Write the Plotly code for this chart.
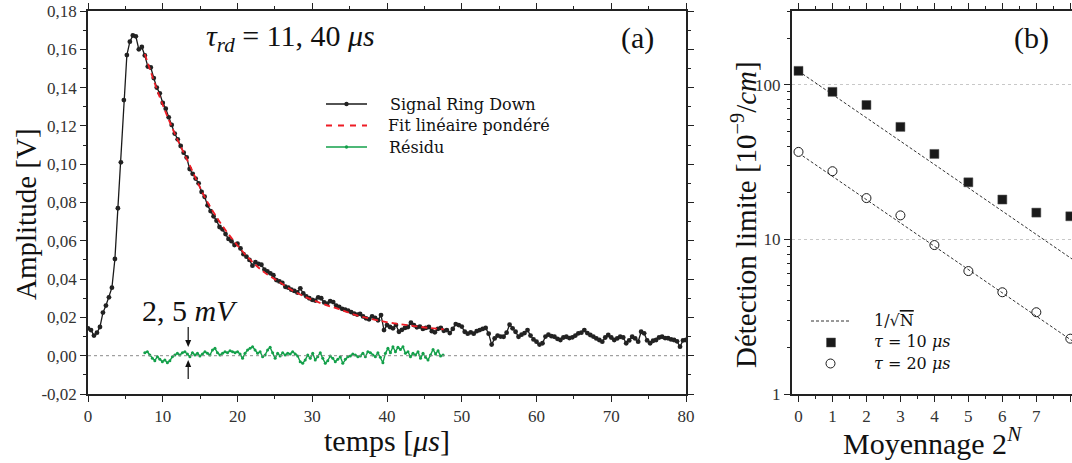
import numpy as np
import plotly.graph_objects as go

# ---------------- Panel (a) data ----------------
sig_t0, sig_dt = 0.0, 0.4
sig_v = [
    0.0143, 0.0134, 0.0105, 0.0120, 0.0150, 0.0225, 0.0262, 0.0305, 0.0355, 0.0505,
    0.0770, 0.1010, 0.1335, 0.1570, 0.1640, 0.1672, 0.1668, 0.1600, 0.1612, 0.1568,
    0.1510, 0.1505, 0.1450, 0.1400, 0.1370, 0.1320, 0.1290, 0.1245, 0.1205, 0.1160,
    0.1130, 0.1095, 0.1060, 0.1035, 0.0975, 0.0950, 0.0925, 0.0900, 0.0855, 0.0830,
    0.0785, 0.0755, 0.0728, 0.0705, 0.0672, 0.0660, 0.0635, 0.0610, 0.0598, 0.0578,
    0.0585, 0.0560, 0.0530, 0.0517, 0.0500, 0.0470, 0.0488, 0.0480, 0.0475, 0.0450,
    0.0440, 0.0430, 0.0420, 0.0395, 0.0388, 0.0380, 0.0360, 0.0355, 0.0345, 0.0338,
    0.0330, 0.0352, 0.0325, 0.0310, 0.0300, 0.0292, 0.0288, 0.0305, 0.0300, 0.0278,
    0.0272, 0.0285, 0.0280, 0.0262, 0.0255, 0.0245, 0.0240, 0.0235, 0.0228, 0.0220,
    0.0215, 0.0218, 0.0205, 0.0195, 0.0190, 0.0205, 0.0198, 0.0185, 0.0212, 0.0134,
    0.0160, 0.0150, 0.0143, 0.0160, 0.0125, 0.0135, 0.0145, 0.0150, 0.0172, 0.0160,
    0.0148, 0.0152, 0.0140, 0.0145, 0.0150, 0.0128, 0.0122, 0.0140, 0.0145, 0.0130,
    0.0134, 0.0118, 0.0140, 0.0165, 0.0160, 0.0152, 0.0125, 0.0115, 0.0122, 0.0115,
    0.0128, 0.0134, 0.0140, 0.0145, 0.0115, 0.0058, 0.0090, 0.0105, 0.0100, 0.0099,
    0.0120, 0.0162, 0.0143, 0.0125, 0.0099, 0.0110, 0.0118, 0.0134, 0.0105, 0.0085,
    0.0073, 0.0058, 0.0065, 0.0100, 0.0110, 0.0102, 0.0099, 0.0088, 0.0082, 0.0095,
    0.0099, 0.0092, 0.0096, 0.0105, 0.0117, 0.0120, 0.0134, 0.0118, 0.0108, 0.0100,
    0.0090, 0.0082, 0.0073, 0.0095, 0.0108, 0.0095, 0.0082, 0.0090, 0.0099, 0.0095,
    0.0065, 0.0080, 0.0099, 0.0090, 0.0073, 0.0125, 0.0117, 0.0080, 0.0065, 0.0078,
    0.0082, 0.0095, 0.0099, 0.0092, 0.0091, 0.0085, 0.0082, 0.0075, 0.0047, 0.0080,
    0.0082,
]
sig_t = sig_t0 + sig_dt * np.arange(len(sig_v))

fit_t = [7.6, 9.6, 11.6, 13.6, 15.6, 17.6, 19.6, 21.6, 23.6, 25.6, 27.6,
         29.6, 31.6, 33.6, 35.6, 37.6, 39.6, 41.6, 43.6, 45.6, 47.6]
fit_v = [0.1575, 0.1350, 0.1160, 0.0995, 0.0830, 0.0700, 0.0595, 0.0505, 0.0435,
         0.0385, 0.0335, 0.0298, 0.0268, 0.0243, 0.0215, 0.0195, 0.0178, 0.0165,
         0.0155, 0.0145, 0.0138]

res_start, res_end = 7.6, 47.5
res_mv = [
    1.57, 2.09, 0.35, -1.39, -2.61, -0.52, -1.91, -3.13, -2.26, -3.65,
    -2.61, -0.52, 0.35, 1.22, 0.35, 1.57, 2.09, 0.87, -0.52, 1.57,
    0.35, 1.22, -0.17, 0.87, 2.09, 1.22, 0.35, 2.96, 3.83, 1.57,
    0.35, 1.22, 2.09, 1.57, 2.61, 2.09, 1.57, 2.09, 0.87, -1.39,
    1.22, 2.96, 3.83, 4.70, 2.96, 1.22, 2.09, -0.52, 0.35, 2.96,
    4.35, 1.57, -1.39, 1.22, -0.17, 1.57, 0.35, 1.22, 0.87, 2.09,
    0.87, -0.17, -3.13, -4.00, -2.26, 0.35, -1.39, 1.22, -2.26, -0.52,
    1.57, -1.39, -4.00, -2.61, -0.17, -1.39, -3.13, -1.91, -0.52, -4.00,
    -1.91, -0.52, -0.17, 0.87, 0.35, -0.52, -0.17, 1.22, -0.52, 2.09,
    1.57, 0.35, -0.52, 1.57, -0.87, -3.65, 1.22, 3.83, 1.57, 4.70,
    2.09, 4.35, 3.30, 4.70, 1.22, 2.09, -0.52, 1.22, 0.35, 2.09,
    -1.39, 1.22, -0.87, -2.26, 0.35, 3.30, 0.87, 2.61, -0.17, 0.35,
]
res_t = np.linspace(res_start, res_end, len(res_mv))
res_v = [r / 1000.0 for r in res_mv]

a_ytickvals = [-0.02, 0.0, 0.02, 0.04, 0.06, 0.08, 0.10, 0.12, 0.14, 0.16, 0.18]
a_yticktext = ["-0,02", "0,00", "0,02", "0,04", "0,06", "0,08", "0,10",
               "0,12", "0,14", "0,16", "0,18"]
a_xtickvals = [0, 10, 20, 30, 40, 50, 60, 70, 80]

# ---------------- Panel (b) data ----------------
avg_n = [0, 1, 2, 3, 4, 5, 6, 7, 8]
det_tau10 = [123, 90, 74, 53.4, 35.7, 23.4, 18.1, 14.9, 14.1]
det_tau20 = [36.8, 27.6, 18.5, 14.3, 9.19, 6.24, 4.55, 3.38, 2.28]
ref_n = [0.12, 8.3]
ref_tau10 = [117.5, 6.85]
ref_tau20 = [34.7, 2.03]

legend_a = ["Signal Ring Down", "Fit linéaire pondéré", "Résidu"]
legend_b = ["1/√<span style='text-decoration:overline'>N</span>",
            "<i>τ</i> = 10 <i>μs</i>", "<i>τ</i> = 20 <i>μs</i>"]

FONT = "Liberation Serif"
LFONT = "DejaVu Serif"
AX = "#222222"
TXT = "#111111"
W, H = 1072, 463

fig = go.Figure()

fig.add_trace(go.Scatter(
    x=sig_t, y=sig_v, mode="lines+markers", name=legend_a[0],
    line=dict(color="#1a1a1a", width=1.3), marker=dict(color="#222222", size=4.8),
    xaxis="x", yaxis="y"))
fig.add_trace(go.Scatter(
    x=fit_t, y=fit_v, mode="lines", name=legend_a[1],
    line=dict(color="#ee1c25", width=1.8, dash="6px,4px", shape="spline"),
    xaxis="x", yaxis="y"))
fig.add_trace(go.Scatter(
    x=res_t, y=res_v, mode="lines+markers", name=legend_a[2],
    line=dict(color="#13a04a", width=1.4), marker=dict(color="#13a04a", size=3),
    xaxis="x", yaxis="y"))

fig.add_trace(go.Scatter(
    x=ref_n, y=ref_tau10, mode="lines", name="1/sqrt(N)",
    line=dict(color="#333333", width=1, dash="3px,2px"),
    xaxis="x2", yaxis="y2"))
fig.add_trace(go.Scatter(
    x=ref_n, y=ref_tau20, mode="lines", name="1/sqrt(N) ",
    line=dict(color="#333333", width=1, dash="3px,2px"),
    xaxis="x2", yaxis="y2"))
fig.add_trace(go.Scatter(
    x=avg_n, y=det_tau10, mode="markers", name="tau = 10 us",
    marker=dict(symbol="square", size=9, color="#1a1a1a", line=dict(color="#555", width=0.5)),
    xaxis="x2", yaxis="y2", cliponaxis=False))
fig.add_trace(go.Scatter(
    x=avg_n, y=det_tau20, mode="markers", name="tau = 20 us",
    marker=dict(symbol="circle-open", size=9, color="#1a1a1a", line=dict(width=1)),
    xaxis="x2", yaxis="y2", cliponaxis=False))

ydom = [(H - 394) / H, (H - 11) / H]
common = dict(showline=True, linecolor=AX, linewidth=1.5, ticks="outside",
              tickcolor=AX, tickwidth=1.2, ticklen=6, zeroline=False, automargin=False,
              tickfont=dict(family=FONT, size=17, color="#333"))

fig.update_layout(
    template="none",
    width=W, height=H, margin=dict(l=0, r=0, t=0, b=0, pad=0),
    paper_bgcolor="white", plot_bgcolor="white",
    font=dict(family=FONT, color=TXT),
    showlegend=False,
    xaxis=dict(domain=[88 / W, 686 / W], range=[0, 80], tickvals=a_xtickvals,
               mirror="allticks", showgrid=False, anchor="y",
               minor=dict(dtick=5, tick0=0, ticks="outside", ticklen=3, tickcolor=AX),
               **common),
    yaxis=dict(domain=ydom, range=[-0.02, 0.18], tickvals=a_ytickvals,
               ticktext=a_yticktext, mirror="allticks", showgrid=False, anchor="x",
               minor=dict(dtick=0.01, tick0=0, ticks="outside", ticklen=3, tickcolor=AX),
               **common),
    xaxis2=dict(domain=[791.7 / W, 1.0], range=[-0.2, 8.05], tickvals=avg_n,
                mirror="allticks", showgrid=False, anchor="y2",
                minor=dict(dtick=0.5, tick0=0, ticks="outside", ticklen=3, tickcolor=AX),
                **common),
    yaxis2=dict(domain=ydom, type="log", range=[0, np.log10(300)],
                tickvals=[1, 10, 100], ticktext=["1", "10", "100"], anchor="x2",
                showgrid=True, gridcolor="#c8c8c8", griddash="dot", gridwidth=1,
                minor=dict(tickvals=[2, 3, 4, 5, 6, 7, 8, 9, 20, 30, 40, 50, 60, 70,
                                     80, 90, 200, 300],
                           ticks="outside", ticklen=3, tickcolor=AX, showgrid=False),
                **common),
)


def px(x):
    return x / W


def py(y):
    return 1 - y / H


def tri(pts):
    return "M " + " L ".join(f"{px(a):.5f},{py(b):.5f}" for a, b in pts) + " Z"


ARX = 188.2
shapes = [
    dict(type="line", xref="x", yref="y", x0=0, x1=80, y0=0, y1=0,
         line=dict(color="#8a8a8a", width=1, dash="dot")),
    # 2,5 mV arrows
    dict(type="line", xref="paper", yref="paper", x0=px(ARX), x1=px(ARX),
         y0=py(327), y1=py(341), line=dict(color="#111", width=1.2)),
    dict(type="path", xref="paper", yref="paper",
         path=tri([(ARX - 3, 340), (ARX + 3, 340), (ARX, 347)]),
         fillcolor="#111", line=dict(width=0)),
    dict(type="line", xref="paper", yref="paper", x0=px(ARX), x1=px(ARX),
         y0=py(379), y1=py(366), line=dict(color="#111", width=1.2)),
    dict(type="path", xref="paper", yref="paper",
         path=tri([(ARX - 3, 367), (ARX + 3, 367), (ARX, 360)]),
         fillcolor="#111", line=dict(width=0)),
    # legend (a) samples
    dict(type="line", xref="paper", yref="paper", x0=px(326), x1=px(367), y0=py(104), y1=py(104),
         line=dict(color="#1a1a1a", width=1.3)),
    dict(type="circle", xref="paper", yref="paper", x0=px(344.3), x1=px(348.7),
         y0=py(101.8), y1=py(106.2), fillcolor="#222", line=dict(width=0)),
    dict(type="line", xref="paper", yref="paper", x0=px(326), x1=px(367), y0=py(125.5), y1=py(125.5),
         line=dict(color="#ee1c25", width=1.8, dash="6px,6px")),
    dict(type="line", xref="paper", yref="paper", x0=px(326), x1=px(367), y0=py(147), y1=py(147),
         line=dict(color="#13a04a", width=1.4)),
    dict(type="circle", xref="paper", yref="paper", x0=px(344.8), x1=px(348.2),
         y0=py(145.3), y1=py(148.7), fillcolor="#13a04a", line=dict(width=0)),
    # legend (b) samples
    dict(type="line", xref="paper", yref="paper", x0=px(811), x1=px(851), y0=py(321), y1=py(321),
         line=dict(color="#333", width=1, dash="3px,2px")),
    dict(type="rect", xref="paper", yref="paper", x0=px(826.5), x1=px(835.5),
         y0=py(338), y1=py(347), fillcolor="#1a1a1a", line=dict(color="#555", width=0.5)),
    dict(type="circle", xref="paper", yref="paper", x0=px(826), x1=px(835),
         y0=py(359), y1=py(368), line=dict(color="#1a1a1a", width=1)),
]
fig.update_layout(shapes=shapes)


def txt(x, y, s, size, anchor="center", angle=0, family=FONT, pad=1):
    return dict(x=px(x), y=py(y), xref="paper", yref="paper", showarrow=False,
                text=s, xanchor=anchor, yanchor="middle", textangle=angle,
                borderpad=pad, font=dict(family=family, size=size, color=TXT))


ann = [
    txt(190, 310, "2, 5 <i>mV</i>", 30),
    txt(290, 38, "<i>τ<sub>rd</sub></i> = 11, 40 <i>μs</i>", 30),
    txt(637, 38, "(a)", 30),
    txt(1031, 38, "(b)", 30),
    txt(26, 214, "Amplitude [V]", 29, angle=-90),
    txt(387, 440, "temps [<i>μs</i>]", 30),
    txt(744, 215, "Détection limite [10<sup>−9</sup>/<i>cm</i>]", 29, angle=-90),
    txt(932, 441, "Moyennage 2<sup><i>N</i></sup>", 30),
    txt(389, 104, legend_a[0], 16, anchor="left", family=LFONT, pad=0),
    txt(387, 125.5, legend_a[1], 16, anchor="left", family=LFONT, pad=0),
    txt(388, 147, legend_a[2], 16, anchor="left", family=LFONT, pad=0),
    txt(873, 320, legend_b[0], 16, anchor="left", family=LFONT, pad=0),
    txt(873, 341.5, legend_b[1], 16, anchor="left", family=LFONT, pad=0),
    txt(873, 363, legend_b[2], 16, anchor="left", family=LFONT, pad=0),
]
fig.update_layout(annotations=ann)

fig.write_html("out.html", config={"displayModeBar": False},
               post_script="document.body.style.margin='0';document.body.style.overflow='hidden';")
